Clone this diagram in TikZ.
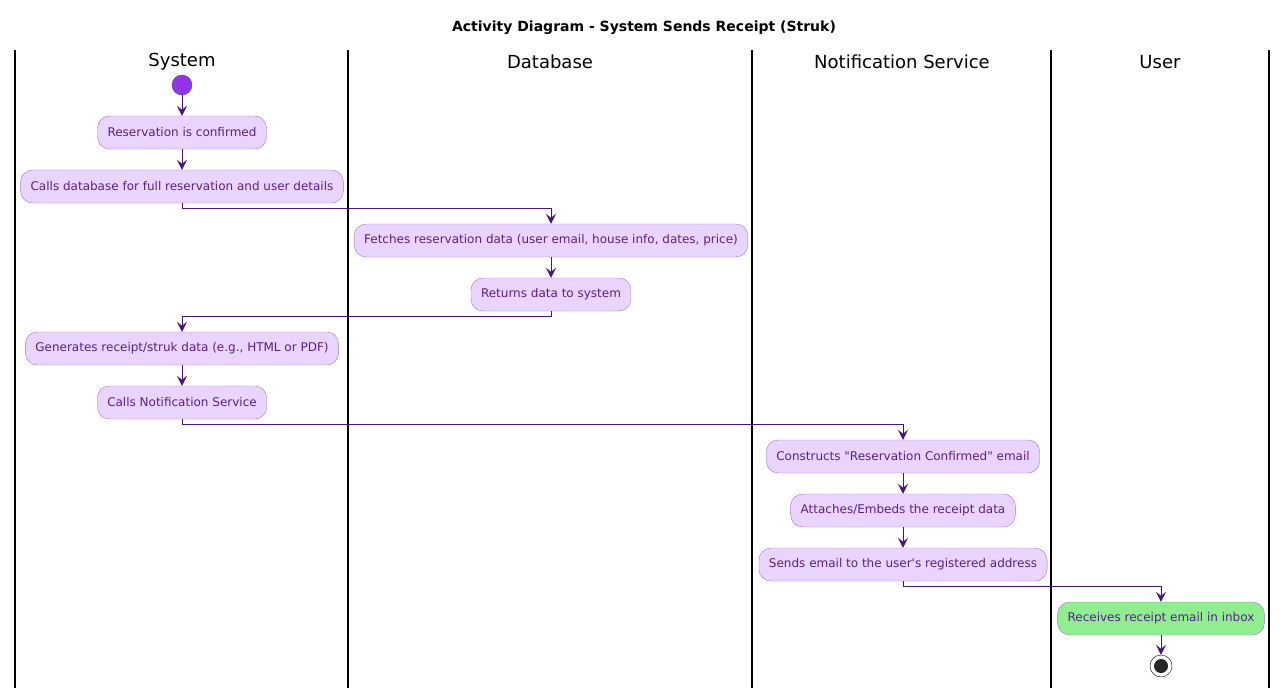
\documentclass[tikz,border=0pt]{standalone}
\usepackage{fontspec}
\setmainfont{DejaVu Sans}[Ligatures=TeXOff]
\usetikzlibrary{arrows.meta}
\definecolor{actfill}{HTML}{E9D5FF}
\definecolor{actline}{HTML}{A66FE0}
\definecolor{acttext}{HTML}{5B1F8F}
\definecolor{flowcol}{HTML}{4C1283}
\definecolor{startcol}{HTML}{9333EA}
\definecolor{donecol}{HTML}{90EE90}
\tikzset{
    act/.style={draw=actline, fill=actfill, text=acttext, rounded corners=12pt,
        minimum height=33pt, inner xsep=10pt, font=\fontsize{12}{14}\selectfont},
    flow/.style={draw=flowcol, line width=1pt, -{Stealth[length=10pt,width=10pt,inset=4pt]}},
    lane/.style={line width=1.3pt},
    lanetitle/.style={font=\fontsize{18}{20}\selectfont}
}
\begin{document}
\begin{tikzpicture}[x=1pt, y=-1pt]
        \useasboundingbox (0, 0) rectangle (1288, 688);
        \node [font=\bfseries\fontsize{14}{16}\selectfont] (title) at (644, 28) {Activity Diagram - System Sends Receipt (Struk)};

        % swimlanes
        \foreach \x in {15, 348, 752, 1051, 1269} {
            \draw [lane] (\x, 50) -- (\x, 688);
        }
        \node [lanetitle] (lsys) at (182, 62) {System};
        \node [lanetitle] (ldb) at (550, 62) {Database};
        \node [lanetitle] (lnote) at (902, 62) {Notification Service};
        \node [lanetitle] (luser) at (1160, 62) {User};

        % activities
        \node [circle, draw=black!70, fill=startcol, minimum size=20pt, inner sep=0pt] (start) at (182, 85) {};
        \node [act] (confirm) at (182, 132.5) {Reservation is confirmed};
        \node [act] (calldb) at (182, 186.5) {Calls database for full reservation and user details};
        \node [act] (fetch) at (551, 240.5) {Fetches reservation data (user email, house info, dates, price)};
        \node [act] (ret) at (551, 294.5) {Returns data to system};
        \node [act] (gen) at (182, 348.5) {Generates receipt/struk data (e.g., HTML or PDF)};
        \node [act] (callnote) at (182, 402.5) {Calls Notification Service};
        \node [act] (build) at (903, 456.5) {Constructs "Reservation Confirmed" email};
        \node [act] (attach) at (903, 510.5) {Attaches/Embeds the receipt data};
        \node [act] (send) at (903, 564.5) {Sends email to the user's registered address};
        \node [act, fill=donecol] (recv) at (1161, 618.5) {Receives receipt email in inbox};
        \node [circle, draw=black, fill=white, minimum size=22pt, inner sep=0pt] (stop) at (1161, 666) {};
        \fill [black!85] (stop) circle (7pt);

        % flow
        \draw [flow] (start) -- (confirm);
        \draw [flow] (confirm) -- (calldb);
        \draw [flow] (calldb.south) -- ++(0, 5) -| (fetch.north);
        \draw [flow] (fetch) -- (ret);
        \draw [flow] (ret.south) -- ++(0, 5) -| (gen.north);
        \draw [flow] (gen) -- (callnote);
        \draw [flow] (callnote.south) -- ++(0, 5) -| (build.north);
        \draw [flow] (build) -- (attach);
        \draw [flow] (attach) -- (send);
        \draw [flow] (send.south) -- ++(0, 5) -| (recv.north);
        \draw [flow] (recv) -- (stop);
    \end{tikzpicture}
\end{document}
